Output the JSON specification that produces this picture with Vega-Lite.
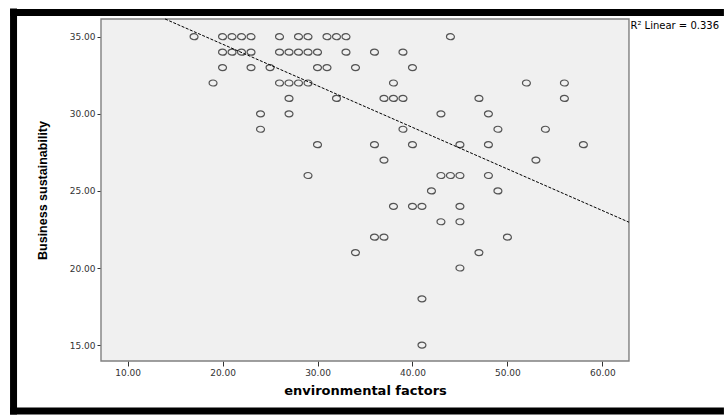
{
  "$schema": "https://vega.github.io/schema/vega-lite/v6.json",
  "width": 724,
  "height": 415,
  "autosize": {"type": "none"},
  "padding": 0,
  "background": "white",
  "config": {
    "view": {"fill": "white", "stroke": null},
    "axis": {
      "grid": false,
      "domain": false,
      "labelFont": "DejaVu Sans",
      "labelFontSize": 9,
      "labelColor": "#333",
      "tickColor": "#333",
      "titleColor": "#000",
      "titleFontWeight": "bold"
    }
  },
  "datasets": {
    "points": [
      {"env": 17, "bus": 35}, {"env": 20, "bus": 35}, {"env": 21, "bus": 35}, {"env": 22, "bus": 35},
      {"env": 23, "bus": 35}, {"env": 26, "bus": 35}, {"env": 28, "bus": 35}, {"env": 29, "bus": 35},
      {"env": 31, "bus": 35}, {"env": 32, "bus": 35}, {"env": 33, "bus": 35}, {"env": 44, "bus": 35},
      {"env": 20, "bus": 34}, {"env": 21, "bus": 34}, {"env": 22, "bus": 34}, {"env": 23, "bus": 34},
      {"env": 26, "bus": 34}, {"env": 27, "bus": 34}, {"env": 28, "bus": 34}, {"env": 29, "bus": 34},
      {"env": 30, "bus": 34}, {"env": 33, "bus": 34}, {"env": 36, "bus": 34}, {"env": 39, "bus": 34},
      {"env": 20, "bus": 33}, {"env": 23, "bus": 33}, {"env": 25, "bus": 33}, {"env": 30, "bus": 33},
      {"env": 31, "bus": 33}, {"env": 34, "bus": 33}, {"env": 40, "bus": 33},
      {"env": 19, "bus": 32}, {"env": 26, "bus": 32}, {"env": 27, "bus": 32}, {"env": 28, "bus": 32},
      {"env": 29, "bus": 32}, {"env": 38, "bus": 32}, {"env": 52, "bus": 32}, {"env": 56, "bus": 32},
      {"env": 27, "bus": 31}, {"env": 32, "bus": 31}, {"env": 37, "bus": 31}, {"env": 38, "bus": 31},
      {"env": 39, "bus": 31}, {"env": 47, "bus": 31}, {"env": 56, "bus": 31},
      {"env": 24, "bus": 30}, {"env": 27, "bus": 30}, {"env": 43, "bus": 30}, {"env": 48, "bus": 30},
      {"env": 24, "bus": 29}, {"env": 39, "bus": 29}, {"env": 49, "bus": 29}, {"env": 54, "bus": 29},
      {"env": 30, "bus": 28}, {"env": 36, "bus": 28}, {"env": 40, "bus": 28}, {"env": 45, "bus": 28},
      {"env": 48, "bus": 28}, {"env": 58, "bus": 28},
      {"env": 37, "bus": 27}, {"env": 53, "bus": 27},
      {"env": 29, "bus": 26}, {"env": 43, "bus": 26}, {"env": 44, "bus": 26}, {"env": 45, "bus": 26},
      {"env": 48, "bus": 26},
      {"env": 42, "bus": 25}, {"env": 49, "bus": 25},
      {"env": 38, "bus": 24}, {"env": 40, "bus": 24}, {"env": 41, "bus": 24}, {"env": 45, "bus": 24},
      {"env": 43, "bus": 23}, {"env": 45, "bus": 23},
      {"env": 36, "bus": 22}, {"env": 37, "bus": 22}, {"env": 50, "bus": 22},
      {"env": 34, "bus": 21}, {"env": 47, "bus": 21},
      {"env": 45, "bus": 20},
      {"env": 41, "bus": 18},
      {"env": 41, "bus": 15}
    ],
    "panel": [{"x1": 7.2, "x2": 62.8, "y1": 13.97, "y2": 36.15}],
    "fit": [{"env": 13.95, "bus": 36.15}, {"env": 62.8, "bus": 22.97}],
    "note": [{"env": 62.85, "bus": 35.7, "label": "R² Linear = 0.336"}],
    "frame": [
      {"side": "top", "x1": -2.38, "x2": 72.8, "y1": 36.57, "y2": 36.57},
      {"side": "bottom", "x1": -2.38, "x2": 72.8, "y1": 10.73, "y2": 10.73},
      {"side": "left", "x1": -2.01, "x2": -2.01, "y1": 36.83, "y2": 10.5}
    ]
  },
  "layer": [
    {
      "data": {"name": "panel"},
      "mark": {"type": "rect", "fill": "#f0f0f0", "stroke": "#808080", "strokeWidth": 1.4},
      "encoding": {
        "x": {
          "field": "x1", "type": "quantitative", "title": "environmental factors",
          "scale": {"domain": [-3.436, 72.807], "nice": false, "zero": false},
          "axis": {
            "values": [10, 20, 30, 40, 50, 60],
            "format": ".2f",
            "offset": -54,
            "tickSize": 5,
            "labelPadding": 2,
            "titleFont": "DejaVu Sans",
            "titleFontSize": 13,
            "titlePadding": 7,
            "titleX": 365
          }
        },
        "x2": {"field": "x2"},
        "y": {
          "field": "y1", "type": "quantitative", "title": "Business sustainability",
          "scale": {"domain": [10.467, 37.382], "nice": false, "zero": false},
          "axis": {
            "values": [15, 20, 25, 30, 35],
            "format": ".2f",
            "offset": -101,
            "tickSize": 4,
            "labelPadding": 2,
            "titleFont": "Liberation Sans",
            "titleFontSize": 12.5,
            "titlePadding": 20,
            "titleY": 190
          }
        },
        "y2": {"field": "y2"}
      }
    },
    {
      "data": {"name": "points"},
      "mark": {"type": "point", "shape": "M-1.25,0A1.25,0.95 0 1,0 1.25,0A1.25,0.95 0 1,0 -1.25,0Z", "filled": false, "color": "#111", "size": 40, "strokeWidth": 1.2},
      "encoding": {
        "x": {"field": "env", "type": "quantitative", "title": "environmental factors"},
        "y": {"field": "bus", "type": "quantitative", "title": "Business sustainability"}
      }
    },
    {
      "data": {"name": "fit"},
      "mark": {"type": "line", "color": "#000", "strokeWidth": 1, "strokeDash": [3, 1.5]},
      "encoding": {
        "x": {"field": "env", "type": "quantitative", "title": "environmental factors"},
        "y": {"field": "bus", "type": "quantitative", "title": "Business sustainability"}
      }
    },
    {
      "data": {"name": "note"},
      "mark": {"type": "text", "align": "left", "baseline": "middle", "dx": 1, "font": "DejaVu Sans", "fontSize": 10, "color": "#000"},
      "encoding": {
        "x": {"field": "env", "type": "quantitative", "title": "environmental factors"},
        "y": {"field": "bus", "type": "quantitative", "title": "Business sustainability"},
        "text": {"field": "label"}
      }
    },
    {
      "data": {"name": "frame"},
      "mark": {"type": "rule", "color": "#000", "strokeWidth": 7, "strokeCap": "butt"},
      "encoding": {
        "x": {"field": "x1", "type": "quantitative", "title": "environmental factors"},
        "x2": {"field": "x2"},
        "y": {"field": "y1", "type": "quantitative", "title": "Business sustainability"},
        "y2": {"field": "y2"}
      }
    }
  ]
}
